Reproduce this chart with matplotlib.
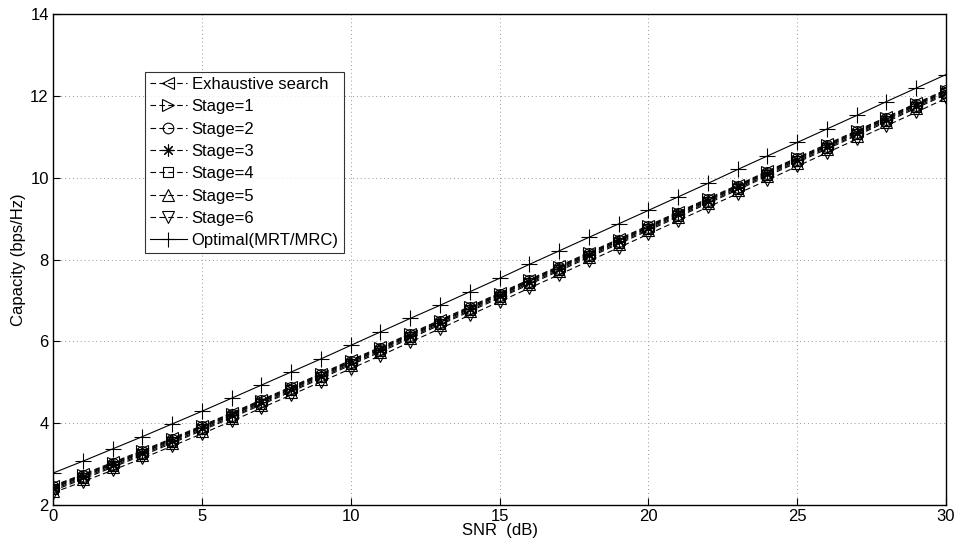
import matplotlib
matplotlib.use("Agg")
import matplotlib.pyplot as plt

snr = list(range(0, 31))

exhaustive = [2.47,2.75,3.04,3.33,3.63,3.94,4.25,4.57,4.89,5.21,5.54,5.86,6.19,6.52,6.85,7.18,7.51,7.84,8.17,8.50,8.83,9.16,9.49,9.82,10.16,10.49,10.82,11.15,11.48,11.82,12.15]
stage1 = [2.45,2.73,3.02,3.31,3.61,3.92,4.23,4.55,4.87,5.19,5.52,5.84,6.17,6.50,6.83,7.16,7.49,7.82,8.15,8.48,8.81,9.14,9.47,9.80,10.14,10.47,10.80,11.13,11.46,11.80,12.13]
stage2 = [2.43,2.71,3.00,3.29,3.59,3.90,4.21,4.53,4.85,5.17,5.50,5.82,6.15,6.48,6.81,7.14,7.47,7.80,8.13,8.46,8.79,9.12,9.45,9.78,10.12,10.45,10.78,11.11,11.44,11.78,12.11]
stage3 = [2.41,2.69,2.98,3.27,3.57,3.88,4.19,4.51,4.83,5.15,5.48,5.80,6.13,6.46,6.79,7.12,7.45,7.78,8.11,8.44,8.77,9.10,9.43,9.76,10.10,10.43,10.76,11.09,11.42,11.76,12.09]
stage4 = [2.38,2.66,2.95,3.24,3.54,3.85,4.16,4.48,4.80,5.12,5.45,5.77,6.10,6.43,6.76,7.09,7.42,7.75,8.08,8.41,8.74,9.07,9.40,9.73,10.07,10.40,10.73,11.06,11.39,11.73,12.06]
stage5 = [2.35,2.63,2.92,3.21,3.51,3.82,4.13,4.45,4.77,5.09,5.42,5.74,6.07,6.40,6.73,7.06,7.39,7.72,8.05,8.38,8.71,9.04,9.37,9.70,10.04,10.37,10.70,11.03,11.36,11.70,12.03]
stage6 = [2.30,2.57,2.85,3.14,3.44,3.74,4.05,4.37,4.69,5.01,5.33,5.65,5.98,6.31,6.64,6.97,7.30,7.63,7.96,8.29,8.62,8.95,9.28,9.61,9.94,10.28,10.61,10.94,11.27,11.60,11.94]
optimal = [2.78,3.07,3.37,3.67,3.98,4.29,4.61,4.93,5.25,5.57,5.90,6.23,6.56,6.88,7.21,7.54,7.88,8.21,8.54,8.87,9.20,9.53,9.86,10.20,10.53,10.86,11.19,11.52,11.86,12.19,12.52]

labels = ["Exhaustive search", "Stage=1", "Stage=2", "Stage=3", "Stage=4",
          "Stage=5", "Stage=6", "Optimal(MRT/MRC)"]
series = [exhaustive, stage1, stage2, stage3, stage4, stage5, stage6, optimal]
markers = ["<", ">", "o", (8, 2, 0), "s", "^", "v", "+"]
sizes = [9, 9, 8.5, 9.5, 7.5, 9, 9, 12]
styles = ["--"] * 7 + ["-"]

xticks = [0, 5, 10, 15, 20, 25, 30]
yticks = [2, 4, 6, 8, 10, 12, 14]

plt.rcParams['font.family'] = ['Liberation Sans', 'DejaVu Sans']

fig = plt.figure(figsize=(9.58, 5.5), dpi=100)
ax = fig.add_axes([53/958, 1-505/550, 893/958, 491/550])

for y, lab, m, ms, ls in zip(series, labels, markers, sizes, styles):
    kw = dict(color='black', linewidth=0.8, linestyle=ls, marker=m,
              markersize=ms, markerfacecolor='none',
              markeredgecolor='black', markeredgewidth=0.8, label=lab)
    if ls == "--":
        kw['dashes'] = (5, 3)
    ax.plot(snr, y, **kw)

ax.set_xlim(0, 30)
ax.set_ylim(2, 14)
ax.set_xticks(xticks)
ax.set_yticks(yticks)
ax.tick_params(direction='in', labelsize=12, length=5, width=0.8, pad=3)
ax.grid(True, linestyle=(0, (1, 3)), color='#999999', linewidth=0.7)
for s in ax.spines.values():
    s.set_linewidth(1.0)
ax.set_xlabel("SNR  (dB)", fontsize=12, labelpad=-1)
ax.set_ylabel("Capacity (bps/Hz)", fontsize=12, labelpad=3)

leg = ax.legend(loc='upper left', bbox_to_anchor=(0.103, 0.882), fontsize=12,
                frameon=True, fancybox=False, edgecolor='black',
                handlelength=2.2, handletextpad=0.3, labelspacing=0.44,
                borderpad=0.3, borderaxespad=0, markerscale=0.9)
leg.get_frame().set_linewidth(0.8)

fig.savefig("out.png", dpi=100)
